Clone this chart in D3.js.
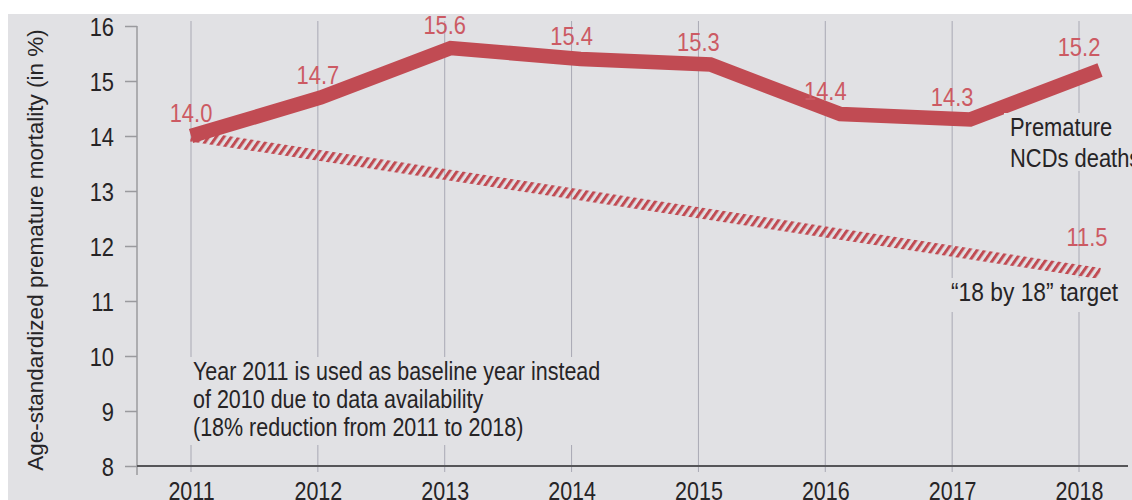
<!DOCTYPE html>
<html>
<head>
<meta charset="utf-8">
<script src="https://cdn.jsdelivr.net/npm/d3@7"></script>
<style>
  html, body { margin: 0; padding: 0; background: #ffffff; }
  svg { display: block; }
  text { font-family: "Liberation Sans", Arial, sans-serif; }
</style>
</head>
<body>
<svg id="chart" width="1132" height="500"></svg>
<script>
// ---- data ----
const years = [2011, 2012, 2013, 2014, 2015, 2016, 2017, 2018];
const ncdDeaths = [14.0, 14.7, 15.6, 15.4, 15.3, 14.4, 14.3, 15.2];
const targetYears = [2011, 2018];
const targetValues = [14.0, 11.5];
const yTicks = [8, 9, 10, 11, 12, 13, 14, 15, 16];
const yTitle = "Age-standardized premature mortality (in %)";
const noteLines = [
  "Year 2011 is used as baseline year instead",
  "of 2010 due to data availability",
  "(18% reduction from 2011 to 2018)"
];
const seriesLabel = ["Premature", "NCDs deaths"];
const targetLabel = "\u201c18 by 18\u201d target";

// ---- layout ----
const svg = d3.select("#chart");
const W = 1132, H = 500;
const bg = "#e1e1e4";
const red = "#c14b53";
const redLabel = "#cc5a63";
const ink = "#262426";
const SX = 0.86; // condensed look

svg.append("rect").attr("x", 8).attr("y", 14).attr("width", W - 8).attr("height", H - 14).attr("fill", bg);

const y = d3.scaleLinear().domain([8, 16]).range([466, 26]);
const xGrid = d3.scaleLinear().domain([2011, 2018]).range([191, 1079]);
const xPt = d3.scaleLinear().domain([2011, 2018]).range([191, 1100]);

function ctext(parent, x, yy, str, size, fill, anchor) {
  return parent.append("text")
    .attr("transform", `translate(${x},${yy}) scale(${SX},1)`)
    .attr("text-anchor", anchor || "start")
    .attr("font-size", size)
    .attr("fill", fill)
    .text(str);
}
function ctextLines(parent, x, y0, lines, lh, size, fill) {
  const t = parent.append("text")
    .attr("transform", `translate(${x},${y0}) scale(${SX},1)`)
    .attr("font-size", size).attr("fill", fill);
  lines.forEach((s, i) => t.append("tspan").attr("x", 0).attr("y", i * lh).text(s));
  return t;
}

// grid lines
svg.append("g").selectAll("line").data(years).join("line")
  .attr("x1", d => xGrid(d)).attr("x2", d => xGrid(d))
  .attr("y1", 21).attr("y2", 472)
  .attr("stroke", "#a9a9b4").attr("stroke-width", 1);

// y axis
const yAxis = d3.axisLeft(y).tickValues(yTicks).tickSize(12).tickPadding(10).tickFormat(d3.format("d"));
const gy = svg.append("g").attr("transform", "translate(137,0)").call(yAxis);
gy.select(".domain").remove();
gy.append("line").attr("x1", 0).attr("x2", 0).attr("y1", 26).attr("y2", 475).attr("stroke", "#9a9a9e").attr("stroke-width", 1.5);
gy.selectAll(".tick line").attr("stroke", "#9a9a9e").attr("stroke-width", 1.5);
gy.selectAll(".tick text").attr("fill", ink).attr("font-size", 25.5).attr("dy", "0.36em")
  .attr("x", -23 / SX).attr("transform", `scale(${SX},1)`);

// x axis
svg.append("line").attr("x1", 137).attr("x2", 1128).attr("y1", 466).attr("y2", 466)
  .attr("stroke", "#555558").attr("stroke-width", 2);
const xAxis = d3.axisBottom(xGrid).tickValues(years).tickSize(0).tickPadding(0).tickFormat(d3.format("d"));
const gx = svg.append("g").attr("transform", "translate(0,466)").call(xAxis);
gx.select(".domain").remove();
gx.selectAll(".tick text").attr("fill", ink).attr("font-size", 25).attr("dy", null).attr("y", 34)
  .attr("transform", `scale(${SX},1)`);

// y title
svg.append("text")
  .attr("transform", "translate(43,250) rotate(-90)")
  .attr("text-anchor", "middle")
  .attr("font-size", 22.5)
  .attr("fill", ink)
  .text(yTitle);

// hatch pattern
const defs = svg.append("defs");
const pat = defs.append("pattern").attr("id", "hatch")
  .attr("patternUnits", "userSpaceOnUse")
  .attr("width", 6.2).attr("height", 20)
  .attr("patternTransform", "rotate(35)");
pat.append("rect").attr("x", 0).attr("y", 0).attr("width", 3).attr("height", 20).attr("fill", red);

// target line
const tData = targetYears.map((d, i) => ({ x: d, v: targetValues[i] }));
const line = d3.line().x(d => xPt(d.x)).y(d => y(d.v));
svg.append("path").datum(tData)
  .attr("d", line)
  .attr("fill", "none")
  .attr("stroke", "url(#hatch)")
  .attr("stroke-width", 11);

// main line
const mData = years.map((d, i) => ({ x: d, v: ncdDeaths[i] }));
svg.append("path").datum(mData)
  .attr("d", line)
  .attr("fill", "none")
  .attr("stroke", red)
  .attr("stroke-width", 14.5)
  .attr("stroke-linejoin", "miter")
  .attr("stroke-linecap", "butt");

// value labels
const gl = svg.append("g");
mData.forEach(d => ctext(gl, xGrid(d.x), y(d.v) - 14, d3.format(".1f")(d.v), 25.5, redLabel, "middle"));
ctext(gl, xGrid(targetYears[1]) + 8, y(targetValues[1]) - 28, d3.format(".1f")(targetValues[1]), 25.5, redLabel, "middle");

// series label
svg.append("rect").attr("x", 1004).attr("y", 113).attr("width", 128).attr("height", 58).attr("fill", bg);
ctextLines(svg, 1010, 136, seriesLabel, 31, 25.5, ink);

// target label
svg.append("rect").attr("x", 946).attr("y", 278).attr("width", 182).attr("height", 34).attr("fill", bg);
ctext(svg, 951, 301, targetLabel, 26.5, ink);

// note
svg.append("rect").attr("x", 190).attr("y", 357).attr("width", 412).attr("height", 88).attr("fill", bg);
ctextLines(svg, 193, 380, noteLines, 28, 25, ink);
</script>
</body>
</html>
